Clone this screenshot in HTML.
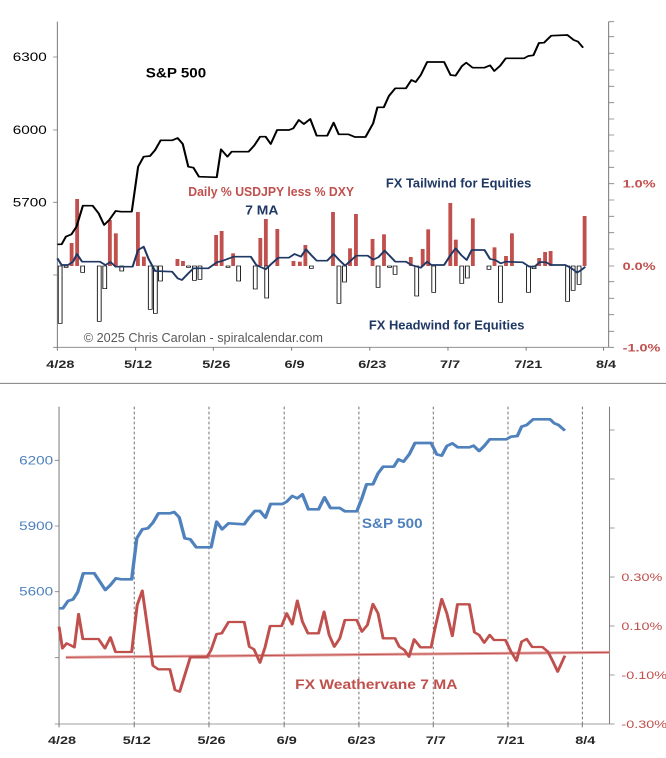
<!DOCTYPE html>
<html><head><meta charset="utf-8"><style>
html,body{margin:0;padding:0;background:#fff;width:666px;height:758px;overflow:hidden}
svg{display:block}
text{font-family:"Liberation Sans",sans-serif}
</style></head><body>
<svg width="666" height="380" viewBox="0 0 1567 1140" preserveAspectRatio="none">
<g stroke="#808080" stroke-width="2.5" fill="none">
<path d="M135 65V1042H1432M1432 65V1042"/>
<path d="M125 171H135M125 390H135M125 607H135M125 825H135M125 1042H135"/>
<path d="M135 1042v10M319 1042v10M502 1042v10M686 1042v10M870 1042v10M1054 1042v10M1238 1042v10M1420 1042v10"/>
<path d="M1432 65h13M1432 110h13M1432 160h13M1432 210h13M1432 259h13M1432 308h13M1432 357h13M1432 405h13M1432 453h13M1432 502h13M1432 551h13M1432 600h13M1432 649h13M1432 698h13M1432 747h13M1432 798h13M1432 845h13M1432 895h13M1432 944h13M1432 994h13M1432 1042h13"/>
</g>
<g font-size="36" fill="#000">
<text x="30" y="183">6300</text><text x="30" y="402">6000</text><text x="30" y="619">5700</text>
</g>
<g font-size="34" fill="#c0504d" font-weight="bold">
<text x="1465" y="563">1.0%</text><text x="1465" y="810">0.0%</text><text x="1465" y="1054">-1.0%</text>
</g>
<g font-size="34" fill="#262626" font-weight="bold" text-anchor="middle">
<text x="142" y="1104">4/28</text><text x="325" y="1104">5/12</text><text x="509" y="1104">5/26</text><text x="693" y="1104">6/9</text><text x="876" y="1104">6/23</text><text x="1059" y="1104">7/7</text><text x="1243" y="1104">7/21</text><text x="1426" y="1104">8/4</text>
</g>
<g fill="#c0504d">
<rect x="164" y="729" width="9" height="69"/><rect x="177" y="597" width="9" height="201"/><rect x="254" y="660" width="9" height="138"/><rect x="268" y="700" width="9" height="98"/><rect x="320" y="636" width="9" height="162"/><rect x="334" y="770" width="9" height="28"/><rect x="413" y="777" width="9" height="21"/><rect x="426" y="783" width="9" height="15"/><rect x="504" y="705" width="9" height="93"/><rect x="517" y="693" width="9" height="105"/><rect x="544" y="760" width="9" height="38"/><rect x="608" y="714" width="9" height="84"/><rect x="621" y="657" width="9" height="141"/><rect x="648" y="687" width="9" height="111"/><rect x="686" y="783" width="9" height="15"/><rect x="701" y="785" width="9" height="13"/><rect x="714" y="735" width="9" height="63"/><rect x="779" y="636" width="9" height="162"/><rect x="819" y="745" width="9" height="53"/><rect x="833" y="642" width="9" height="156"/><rect x="872" y="717" width="9" height="81"/><rect x="899" y="703" width="9" height="95"/><rect x="962" y="771" width="9" height="27"/><rect x="990" y="747" width="9" height="51"/><rect x="1003" y="688" width="9" height="110"/><rect x="1055" y="609" width="9" height="189"/><rect x="1068" y="719" width="9" height="79"/><rect x="1108" y="655" width="9" height="143"/><rect x="1159" y="742" width="9" height="56"/><rect x="1186" y="768" width="9" height="30"/><rect x="1200" y="700" width="9" height="98"/><rect x="1264" y="774" width="9" height="24"/><rect x="1278" y="756" width="9" height="42"/><rect x="1291" y="753" width="9" height="45"/><rect x="1371" y="648" width="9" height="150"/>
</g>
<g fill="#fff" stroke="#000" stroke-width="2">
<rect x="137" y="798" width="9" height="172"/><rect x="151" y="798" width="9" height="4"/><rect x="190" y="798" width="9" height="19"/><rect x="229" y="798" width="9" height="166"/><rect x="242" y="798" width="9" height="68"/><rect x="282" y="798" width="9" height="15"/><rect x="349" y="798" width="9" height="130"/><rect x="361" y="798" width="9" height="142"/><rect x="373" y="798" width="9" height="45"/><rect x="439" y="798" width="9" height="4"/><rect x="453" y="798" width="9" height="43"/><rect x="466" y="798" width="9" height="40"/><rect x="532" y="798" width="9" height="4"/><rect x="557" y="798" width="9" height="45"/><rect x="596" y="798" width="9" height="69"/><rect x="623" y="798" width="9" height="96"/><rect x="728" y="798" width="9" height="7"/><rect x="793" y="798" width="9" height="112"/><rect x="806" y="798" width="9" height="48"/><rect x="885" y="798" width="9" height="64"/><rect x="912" y="798" width="9" height="4"/><rect x="925" y="798" width="9" height="25"/><rect x="976" y="798" width="9" height="90"/><rect x="1016" y="798" width="9" height="79"/><rect x="1082" y="798" width="9" height="52"/><rect x="1095" y="798" width="9" height="36"/><rect x="1146" y="798" width="9" height="10"/><rect x="1173" y="798" width="9" height="109"/><rect x="1239" y="798" width="9" height="79"/><rect x="1252" y="798" width="9" height="8"/><rect x="1331" y="798" width="9" height="106"/><rect x="1344" y="798" width="9" height="73"/><rect x="1358" y="798" width="9" height="55"/>
</g>
<polyline fill="none" stroke="#000" stroke-width="5" stroke-linejoin="round" points="135,733 145,733 155,710 168,703 180,680 195,617 218,617 232,640 245,675 257,660 272,633 285,635 310,635 325,500 338,470 353,468 365,450 378,421 405,421 418,414 430,432 443,500 455,503 468,530 510,532 520,448 535,470 545,455 585,455 598,437 612,410 625,410 637,432 652,390 680,390 690,385 703,360 715,372 730,357 745,407 770,407 785,368 797,403 820,403 835,411 860,411 878,370 888,322 903,322 915,288 930,265 955,265 968,240 978,246 990,225 1005,186 1045,186 1060,225 1072,227 1087,198 1097,188 1112,203 1140,203 1153,196 1163,213 1177,197 1190,175 1233,175 1243,168 1255,166 1268,129 1280,128 1297,107 1335,105 1350,120 1360,125 1372,143"/>
<polyline fill="none" stroke="#1f3864" stroke-width="5" stroke-linejoin="round" points="135,775 145,795 160,795 172,785 181,762 193,785 235,785 248,795 260,786 272,800 312,800 325,750 338,740 350,778 365,813 405,815 418,835 428,840 443,820 455,805 490,805 510,787 525,782 550,770 590,770 603,795 625,808 640,790 655,773 680,773 693,762 708,770 720,748 732,765 745,782 770,782 785,762 798,780 812,797 825,782 838,767 865,767 878,779 890,772 905,752 915,765 930,785 955,785 968,795 990,803 1005,785 1015,795 1045,795 1060,765 1072,745 1085,765 1098,780 1110,750 1140,750 1153,777 1165,780 1178,790 1190,785 1230,787 1245,800 1258,800 1270,786 1285,787 1297,795 1330,795 1345,805 1358,818 1370,808 1377,800"/>
<text x="343" y="232" font-size="42" font-weight="bold" textLength="142" lengthAdjust="spacingAndGlyphs">S&amp;P 500</text>
<text x="443" y="588" font-size="38" font-weight="bold" fill="#c0504d" textLength="390" lengthAdjust="spacingAndGlyphs">Daily % USDJPY less % DXY</text>
<text x="908" y="563" font-size="38" font-weight="bold" fill="#1f3864" textLength="342" lengthAdjust="spacingAndGlyphs">FX Tailwind for Equities</text>
<text x="577" y="644" font-size="38" font-weight="bold" fill="#1f3864" textLength="78" lengthAdjust="spacingAndGlyphs">7 MA</text>
<text x="868" y="989" font-size="38" font-weight="bold" fill="#1f3864" textLength="366" lengthAdjust="spacingAndGlyphs">FX Headwind for Equities</text>
<text x="197" y="1026" font-size="38" fill="#595959" textLength="563" lengthAdjust="spacingAndGlyphs">© 2025 Chris Carolan - spiralcalendar.com</text>
</svg>
<svg width="666" height="378" viewBox="0 0 1568 1134" preserveAspectRatio="none">
<path d="M0 10H1568" stroke="#808080" stroke-width="3"/>
<g stroke="#595959" stroke-width="2" stroke-dasharray="8,7">
<path d="M316 80V1032M492 80V1032M669 80V1032M845 80V1032M1020 80V1032M1196 80V1032M1371 80V1032"/>
</g>
<g stroke="#808080" stroke-width="2.5" fill="none">
<path d="M139 80V1032H1435M1435 80V1032"/>
<path d="M129 241h10M129 438h10M129 635h10M129 833h10M129 1032h10"/>
<path d="M1435 150h12M1435 297h12M1435 444h12M1435 591h12M1435 738h12M1435 885h12M1435 1032h12"/>
<path d="M139 1032v10M316 1032v10M492 1032v10M669 1032v10M845 1032v10M1020 1032v10M1196 1032v10M1371 1032v10"/>
</g>
<g font-size="36" fill="#4f81bd">
<text x="45" y="253">6200</text><text x="45" y="450">5900</text><text x="45" y="647">5600</text>
</g>
<g font-size="34" fill="#c0504d">
<text x="1463" y="603">0.30%</text><text x="1463" y="750">0.10%</text><text x="1463" y="897">-0.10%</text><text x="1463" y="1044">-0.30%</text>
</g>
<g font-size="34" fill="#262626" font-weight="bold" text-anchor="middle">
<text x="146" y="1092">4/28</text><text x="322" y="1092">5/12</text><text x="498" y="1092">5/26</text><text x="675" y="1092">6/9</text><text x="851" y="1092">6/23</text><text x="1026" y="1092">7/7</text><text x="1202" y="1092">7/21</text><text x="1378" y="1092">8/4</text>
</g>
<path d="M155 832L1435 817" stroke="#e6a6a4" stroke-width="9"/>
<path d="M155 832L1435 817" stroke="#c0504d" stroke-width="3"/>
<polyline fill="none" stroke="#4f81bd" stroke-width="8" stroke-linejoin="round" points="139,685 148,685 160,663 172,658 183,636 196,580 222,580 235,605 248,630 260,615 273,595 285,598 310,598 322,475 335,448 348,445 360,428 373,400 400,400 410,396 422,412 435,475 448,478 462,502 497,502 510,425 523,448 538,430 575,433 587,412 600,393 612,393 625,413 637,372 665,372 675,365 688,348 700,355 712,343 726,388 750,388 764,352 778,384 800,384 812,394 840,394 852,355 863,313 878,313 890,280 902,260 927,260 938,238 950,245 964,222 977,189 1015,189 1028,223 1040,227 1052,198 1065,190 1078,202 1105,202 1115,197 1128,213 1140,198 1153,178 1192,178 1203,170 1218,168 1228,140 1240,135 1255,118 1295,118 1305,130 1315,135 1330,152"/>
<polyline fill="none" stroke="#c0504d" stroke-width="7" stroke-linejoin="round" points="139,740 147,805 157,790 165,795 175,802 185,702 195,777 232,777 247,805 260,772 272,816 310,816 323,675 335,632 347,740 360,857 373,868 400,868 412,930 423,935 448,832 487,832 497,810 510,762 522,760 538,726 575,726 587,800 598,808 612,848 624,802 636,738 663,738 675,700 688,733 700,662 712,725 725,760 750,760 763,695 775,765 787,800 800,775 812,720 840,720 852,755 865,735 878,672 890,700 902,775 930,775 940,800 952,810 963,830 975,778 990,802 1015,802 1025,740 1040,657 1052,700 1065,768 1077,673 1105,673 1117,757 1128,765 1140,788 1153,765 1163,780 1190,780 1203,815 1216,842 1228,785 1240,777 1253,801 1277,801 1290,815 1302,845 1313,875 1330,827"/>
<text x="852" y="444" font-size="42" font-weight="bold" fill="#4f81bd" textLength="143" lengthAdjust="spacingAndGlyphs">S&amp;P 500</text>
<text x="695" y="927" font-size="42" font-weight="bold" fill="#c0504d" textLength="382" lengthAdjust="spacingAndGlyphs">FX Weathervane 7 MA</text>
</svg>
</body></html>
